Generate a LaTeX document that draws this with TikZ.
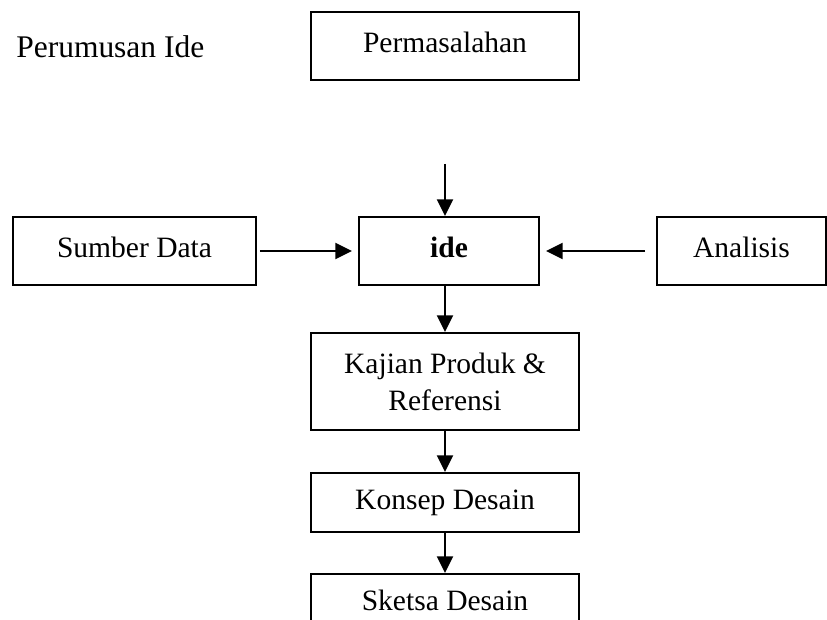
\documentclass[tikz,border=0pt]{standalone}
\usepackage{fontspec}
\setmainfont{Liberation Serif}
\usetikzlibrary{arrows.meta}
\tikzset{
  box/.style={draw, line width=1.3pt, inner sep=0pt, align=center,
    font=\fontsize{21}{26.3}\selectfont},
  onebox/.style={box, text height=14.7pt, text depth=5.25pt},
  arr/.style={-{Triangle[length=0.42cm, width=0.4cm]}, line width=1.7pt}
}
\begin{document}
\begin{tikzpicture}
  \useasboundingbox (0,0) rectangle (20.675,15.475);
  % Title
  \node[anchor=base west, inner sep=0pt, font=\fontsize{22.4}{27}\selectfont]
    (judul) at (0.4,14.025) {Perumusan Ide};
  % Top row
  \node[onebox, minimum width=6.7cm, minimum height=1.7cm]
    (masalah) at (11.125,14.325) {Permasalahan};
  % Middle row
  \node[onebox, minimum width=6.075cm, minimum height=1.7cm]
    (sumber) at (3.3625,9.2) {Sumber Data};
  \node[onebox, minimum width=4.5cm, minimum height=1.7cm]
    (ide) at (11.225,9.2) {\bfseries ide};
  \node[onebox, minimum width=4.225cm, minimum height=1.7cm]
    (analisis) at (18.5375,9.2) {Analisis};
  % Lower column
  \node[box, minimum width=6.7cm, minimum height=2.425cm]
    (kajian) at (11.125,5.9375) {Kajian Produk \&\\Referensi};
  \node[onebox, minimum width=6.7cm, minimum height=1.475cm]
    (konsep) at (11.125,2.9125) {Konsep Desain};
  \node[onebox, minimum width=6.7cm, minimum height=1.475cm]
    (sketsa) at (11.125,0.3875) {Sketsa Desain};
  % Arrows
  \coordinate (atas) at (11.125,11.375);
  \draw[arr] (atas) -- (atas |- ide.north);
  \draw[arr, shorten <=0.075cm, shorten >=0.15cm] (sumber.east) -- (ide.west);
  \draw[arr, shorten <=0.275cm, shorten >=0.15cm] (analisis.west) -- (ide.east);
  \draw[arr] (kajian.north |- ide.south) -- (kajian.north);
  \foreach \a/\b in {kajian/konsep, konsep/sketsa}{
    \draw[arr] (\a.south) -- (\b.north);
  }
\end{tikzpicture}
\end{document}
